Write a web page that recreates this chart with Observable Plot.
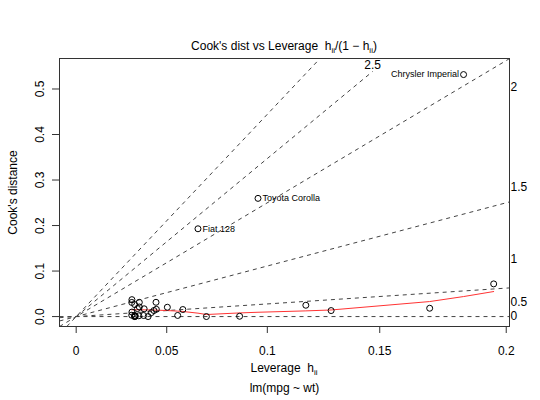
<!DOCTYPE html>
<html>
<head>
<meta charset="utf-8">
<script src="https://cdn.jsdelivr.net/npm/d3@7"></script>
<script src="https://cdn.jsdelivr.net/npm/@observablehq/plot@0.6"></script>
<style>
  html, body { margin: 0; padding: 0; background: #fff; }
  svg { display: block; }
</style>
</head>
<body>
<div id="chart"></div>
<script>
// ---- data ----
const carNames = ["Mazda RX4","Mazda RX4 Wag","Datsun 710","Hornet 4 Drive","Hornet Sportabout","Valiant","Duster 360","Merc 240D","Merc 230","Merc 280","Merc 280C","Merc 450SE","Merc 450SL","Merc 450SLC","Cadillac Fleetwood","Lincoln Continental","Chrysler Imperial","Fiat 128","Honda Civic","Toyota Corolla","Toyota Corona","Dodge Challenger","AMC Javelin","Camaro Z28","Pontiac Firebird","Fiat X1-9","Porsche 914-2","Lotus Europa","Ford Pantera L","Ferrari Dino","Maserati Bora","Volvo 142E"];
// h/(1-h) for each car (x position)
const leverageRatio = [0.0452,0.0364,0.0620,0.0323,0.0340,0.0344,0.0367,0.0323,0.0324,0.0340,0.0340,0.0590,0.0418,0.0437,0.2055,0.2427,0.2252,0.0708,0.1335,0.1057,0.0530,0.0356,0.0340,0.0464,0.0466,0.0950,0.0757,0.1482,0.0324,0.0395,0.0367,0.0392];
const cooksDistance = [0.0133,0.0017,0.0155,0.0030,0.0001,0.0009,0.0313,0.0311,0.0099,0.0002,0.0023,0.0025,0.0000,0.0087,0.0183,0.0718,0.5317,0.1929,0.0249,0.2597,0.0205,0.0176,0.0264,0.0314,0.0160,0.0007,0.0001,0.0132,0.0372,0.0171,0.0211,0.0023];
const labeledCars = ["Chrysler Imperial","Toyota Corolla","Fiat 128"];

// red smoother
const smoothX = [0.0323,0.0340,0.0356,0.0367,0.0395,0.0418,0.0437,0.0452,0.0466,0.0530,0.0590,0.0620,0.0708,0.0757,0.0950,0.1057,0.1335,0.1482,0.2055,0.2252,0.2427];
const smoothY = [0.0150,0.0150,0.0149,0.0149,0.0148,0.0146,0.0145,0.0143,0.0142,0.0132,0.0120,0.0112,0.0075,0.0045,0.0080,0.0095,0.0125,0.0145,0.0330,0.0440,0.0550];

const xTickLabels = [0, 0.05, 0.1, 0.15, 0.2];      // leverage h_ii
const yTickValues = [0, 0.1, 0.2, 0.3, 0.4, 0.5];
const contourValues = [0, 0.5, 1, 1.5, 2, 2.5];
const nParams = 2;

// ---- layout ----
const W = 540, H = 400;
const mL = 59, mR = 31, mT = 58, mB = 74;
const xDomain = [-0.0097, 0.2519];
const yDomain = [-0.0218, 0.567];
const [xmin, xmax] = xDomain, [ymin, ymax] = yDomain;

const cars = carNames.map((name, i) => ({name, g: leverageRatio[i], cook: cooksDistance[i]}));
const smooth = smoothX.map((x, i) => ({x, y: smoothY[i]}));
const xTickPos = xTickLabels.map(h => h / (1 - h));
const xLabelMap = new Map(xTickPos.map((p, i) => [p, String(xTickLabels[i])]));

// contour lines as drawn by R's plot.lm(which = 6)
const strHeight = 8.6 / 455;         // strheight(" ") in data units
const strWidth3 = 1.1 / 1723;        // strwidth(" ")/3 in data units
const ablines = [], segments = [], rightLabels = [], topLabels = [];
for (const b of contourValues) {
  const b2 = b * b;
  if (nParams * ymax > b2 * xmax) {
    const s = b2; // R draws abline(0, bi2)
    const x0 = s > 0 ? Math.max(xmin, ymin / s) : xmin;
    const x1 = s > 0 ? Math.min(xmax, ymax / s) : xmax;
    ablines.push({x1: x0, y1: s * x0, x2: x1, y2: s * x1});
    const xi = xmax + strWidth3;
    rightLabels.push({x: xi, y: b2 * xi / nParams, text: String(b)});
  } else {
    const yi = ymax - 1.5 * strHeight;
    const xi = nParams * yi / b2;
    segments.push({x1: 0, y1: 0, x2: xi, y2: yi});
    topLabels.push({x: xi, y: ymax - 0.8 * strHeight, text: String(b)});
  }
}

const lab = cars.filter(d => labeledCars.includes(d.name));
const labMid = (d3.min(lab, d => d.g) + d3.max(lab, d => d.g)) / 2;
const labLeft = lab.filter(d => d.g > labMid);
const labRight = lab.filter(d => d.g <= labMid);

const dash = {stroke: "#444", strokeWidth: 1, strokeDasharray: "4,4"};

const chart = Plot.plot({
  width: W, height: H,
  marginLeft: mL, marginRight: mR, marginTop: mT, marginBottom: mB,
  style: {fontFamily: "'Liberation Sans', Arial, Helvetica, sans-serif", fontSize: "12px", background: "#fff", color: "#000", overflow: "visible"},
  x: {domain: xDomain},
  y: {domain: yDomain},
  marks: [
    Plot.link(ablines, {x1: "x1", y1: "y1", x2: "x2", y2: "y2", ...dash}),
    Plot.link(segments, {x1: "x1", y1: "y1", x2: "x2", y2: "y2", ...dash}),
    Plot.text(rightLabels, {x: "x", y: "y", text: "text", textAnchor: "start", fontSize: 12}),
    Plot.text(topLabels, {x: "x", y: "y", text: "text", textAnchor: "middle", fontSize: 12}),
    Plot.line(smooth, {x: "x", y: "y", stroke: "#ff3333", strokeWidth: 1}),
    Plot.dot(cars, {x: "g", y: "cook", r: 3, stroke: "#000", strokeWidth: 1, fill: "none"}),
    Plot.text(labLeft, {x: "g", y: "cook", text: "name", textAnchor: "end", dx: -4.5, fontSize: 9}),
    Plot.text(labRight, {x: "g", y: "cook", text: "name", textAnchor: "start", dx: 4.5, fontSize: 9}),
    Plot.frame({stroke: "#333", strokeWidth: 1}),
    Plot.axisX(xTickPos, {tickSize: 7, tickPadding: 13, tickFormat: d => xLabelMap.get(d), label: null, fontSize: 12, stroke: "#333"}),
    Plot.axisY(yTickValues, {tickSize: 7, tickFormat: () => "", label: null, stroke: "#333"}),
    Plot.text(yTickValues, {y: d => d, frameAnchor: "left", dx: -19, rotate: -90, textAnchor: "middle", lineAnchor: "middle", text: d => d3.format(".1f")(d), fontSize: 12}),
    Plot.text(["Cook's distance"], {frameAnchor: "left", dx: -46, rotate: -90, textAnchor: "middle", lineAnchor: "middle", fontSize: 12}),
    Plot.text(["lm(mpg ~ wt)"], {frameAnchor: "bottom", dy: 62, lineAnchor: "middle", fontSize: 12})
  ]
});
document.getElementById("chart").appendChild(chart);

// plotmath-like labels with subscripts
const svg = d3.select(chart);
const cx = mL + (W - mL - mR) / 2;
function mathText(y, parts) {
  const t = svg.append("text")
    .attr("x", cx).attr("y", y)
    .attr("text-anchor", "middle")
    .attr("font-size", 12)
    .attr("fill", "#000")
    .style("white-space", "pre");
  let shifted = false;
  for (const [s, sub] of parts) {
    const ts = t.append("tspan").text(s).attr("font-size", sub ? 8 : 12).attr("fill", "#000");
    if (sub && !shifted) { ts.attr("dy", 3); shifted = true; }
    else if (!sub && shifted) { ts.attr("dy", -3); shifted = false; }
  }
}
mathText(50, [["Cook's dist vs Leverage  h", false], ["ii", true], ["/(1 \u2212 h", false], ["ii", true], [")", false]]);
mathText(372, [["Leverage  h", false], ["ii", true]]);
</script>
</body>
</html>
